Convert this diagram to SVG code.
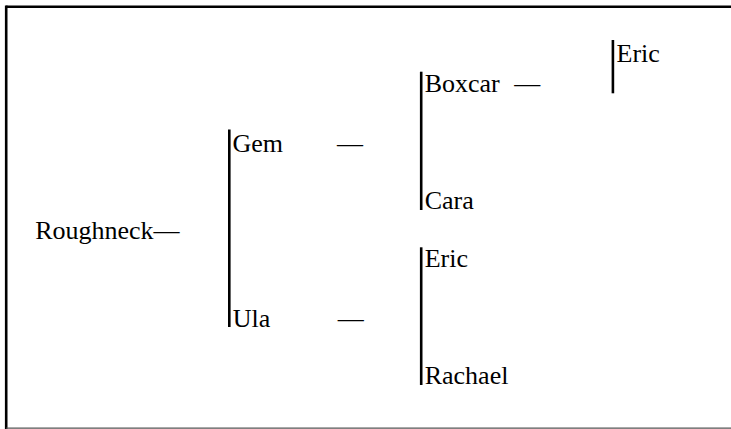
<svg xmlns="http://www.w3.org/2000/svg" width="731" height="429" viewBox="0 0 731 429">
<style>
.t{font-size:26px;fill:#000}
.bar{stroke:#000;stroke-width:2.6;fill:none}
.frame{stroke:#000;stroke-width:2.6;fill:none}
</style>
<rect width="731" height="429" fill="#fff"/>
<g id="frame">
<line class="frame" x1="6.2" y1="6.7" x2="731" y2="6.7"/>
<line class="frame" x1="6.2" y1="5.4" x2="6.2" y2="429"/>
<line x1="6.2" y1="428.2" x2="731" y2="428.2" stroke="#555" stroke-width="1.2"/>
</g>
<g id="connectors" font-family="Liberation Serif" font-size="26">
<line class="bar" x1="229.3" y1="129.5" x2="229.3" y2="327"/>
<line class="bar" x1="421.2" y1="71.7" x2="421.2" y2="210"/>
<line class="bar" x1="421.2" y1="247.3" x2="421.2" y2="385"/>
<line class="bar" x1="612.9" y1="40" x2="612.9" y2="93.3"/>
<text class="t" x="336.9" y="151.7">—</text>
<text class="t" x="337.7" y="326.9">—</text>
<text class="t" x="514.3" y="92.3">—</text>
</g>
<g font-family="Liberation Serif" font-size="26">
<g id="node-roughneck"><text class="t" x="35.2" y="239">Roughneck—</text></g>
<g id="node-gem"><text class="t" x="232.5" y="151.7">Gem</text></g>
<g id="node-ula"><text class="t" x="232.8" y="326.9">Ula</text></g>
<g id="node-boxcar"><text class="t" x="424.7" y="92.3">Boxcar</text></g>
<g id="node-cara"><text class="t" x="424.7" y="209">Cara</text></g>
<g id="node-eric-1"><text class="t" x="616.5" y="61.7">Eric</text></g>
<g id="node-eric-2"><text class="t" x="424.7" y="267.3">Eric</text></g>
<g id="node-rachael"><text class="t" x="424.7" y="384.3">Rachael</text></g>
</g>
</svg>
